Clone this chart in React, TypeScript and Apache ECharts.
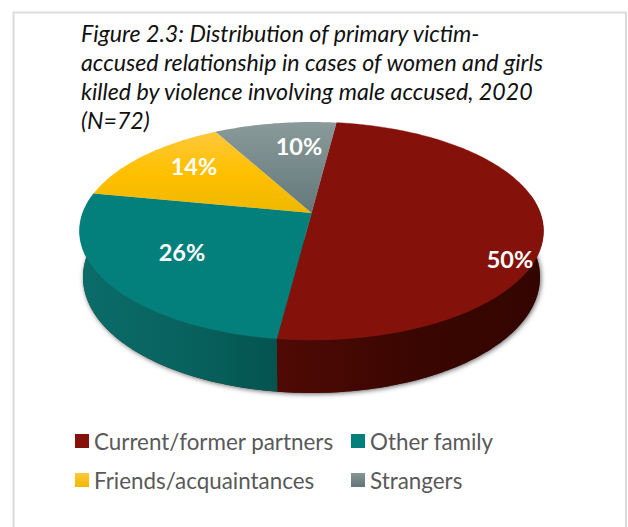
import React, { useEffect, useRef } from "react";
import * as echarts from "echarts";

const categories = ["Current/former partners", "Other family", "Friends/acquaintances", "Strangers"];
const percentages = [50, 26, 14, 10];
const titleLines = [
  "Figure 2.3: Distribution of primary victim-",
  "accused relationship in cases of women and girls",
  "killed by violence involving male accused, 2020",
  "(N=72)",
];

const W = 628, H = 527;
const FONT = "Lato, 'Noto Sans', sans-serif";
const PIE = { apexX: 311.5, apexY: 213, A: 228.8, B: 106, k: 0.165, startDeg: 7.3, scaleBottom: 0.985, depthMid: 45, depthVar: 8 };
const WALL_RANGE = [80.5, 279.5];
const labelPositions = [[510, 259], [182, 252], [194, 166], [299, 146]];

const v = (a: any[], x2: number, y2: number) => new (echarts.graphic as any).LinearGradient(0, 0, x2, y2, a.map((c, i) => ({ offset: i / (a.length - 1), color: c })));
const topFill = [
  "#84120a",
  "#04807c",
  v(["#ffc83c", "#ffc000", "#eeb800"], 0, 1),
  v(["#8a9a9a", "#64787a"], 0, 1),
];
const wallFill = [
  v(["#500a05", "#3b0601", "#330500"], 1, 0),
  v(["#0a6c69", "#08635f", "#045450"], 1, 0),
  "#a88000",
  "#465456",
];
const legendFill = [
  "#84120a",
  "#04807c",
  v(["#ffc83c", "#f0b800"], 0, 1),
  v(["#869696", "#647476"], 0, 1),
];

function projectTop(deg: number) {
  const t = (deg * Math.PI) / 180;
  const u = Math.sin(t), n = -Math.cos(t);
  const w = 1 - PIE.k * n;
  return { x: PIE.apexX + (PIE.A * u) / w, y: PIE.apexY + (PIE.B * n) / w, n };
}
function projectBottom(deg: number) {
  const p = projectTop(deg);
  return { x: PIE.apexX + (p.x - PIE.apexX) * PIE.scaleBottom, y: p.y + PIE.depthMid + PIE.depthVar * p.n };
}
function angles(a: number, b: number) {
  const out: number[] = [];
  for (let d = a; d < b; d += 1) out.push(d);
  out.push(b);
  return out;
}
const total = percentages.reduce((s, x) => s + x, 0);

function sliceRange(i: number) {
  const before = percentages.slice(0, i).reduce((s, x) => s + x, 0);
  const start = PIE.startDeg + (before / total) * 360;
  return [start, start + (percentages[i] / total) * 360];
}

function renderSlice(i: number) {
  return (_params: any, api: any) => {
    api.value(0);
    const [a, b] = sliceRange(i);
    const children: any[] = [];
    const lo = Math.max(a, WALL_RANGE[0]);
    const hi = Math.min(b, WALL_RANGE[1]);
    if (hi > lo) {
      const arc = angles(lo, hi);
      const pts = [
        ...arc.map((d) => { const p = projectTop(d); return [p.x, p.y]; }),
        ...arc.slice().reverse().map((d) => { const p = projectBottom(d); return [p.x, p.y]; }),
      ];
      children.push({ type: "polygon", shape: { points: pts }, style: { fill: wallFill[i] } });
    }
    const apex = [PIE.apexX, PIE.apexY];
    const top = [apex, ...angles(a, b).map((d) => { const p = projectTop(d); return [p.x, p.y]; })];
    children.push({ type: "polygon", z2: 5, shape: { points: top }, style: { fill: topFill[i], stroke: typeof topFill[i] === "string" ? topFill[i] : "none", lineWidth: 0.4 } });
    children.push({
      type: "text", z2: 10, x: labelPositions[i][0], y: labelPositions[i][1],
      style: { text: percentages[i] + "%", fill: "#fff", font: `bold 23.5px ${FONT}`, align: "center", verticalAlign: "middle" },
    });
    return { type: "group", children };
  };
}

function renderShadow() {
  const pts = angles(WALL_RANGE[0], WALL_RANGE[1]).map((d) => { const p = projectBottom(d); return [p.x, p.y]; });
  return {
    type: "polygon",
    shape: { points: pts },
    style: { fill: "#333", shadowBlur: 5, shadowColor: "rgba(0,0,0,0.6)", shadowOffsetX: 1, shadowOffsetY: 1 },
  };
}

const legendText = { fontFamily: FONT, fontSize: 22.4, color: "#595959", padding: [0, 0, 0, 0], height: 22, lineHeight: 22 };

export default function App() {
  const ref = useRef<HTMLDivElement>(null);
  useEffect(() => {
    document.body.style.margin = "0";
    const chart = echarts.init(ref.current!, null, { renderer: "svg" });
    chart.setOption({
      animation: false,
      backgroundColor: "#fff",
      title: {
        text: titleLines.join("\n"),
        left: 81, top: 18, padding: 0,
        textStyle: { fontFamily: FONT, fontStyle: "italic", fontWeight: "normal", fontSize: 23.2, lineHeight: 29, color: "#111" },
      },
      legend: [
        {
          orient: "vertical", left: 75, top: 430, padding: 0, itemGap: 17, itemWidth: 14, itemHeight: 14, icon: "rect",
          data: [categories[0], categories[2]],
          textStyle: legendText,
        },
        {
          orient: "vertical", left: 351, top: 430, padding: 0, itemGap: 17, itemWidth: 14, itemHeight: 14, icon: "rect",
          data: [categories[1], categories[3]],
          textStyle: legendText,
        },
      ],
      graphic: [
        { type: "rect", shape: { x: 13.5, y: 12.5, width: 612.5, height: 600 }, style: { fill: "none", stroke: "#dcdcdc", lineWidth: 2 }, silent: true, z: -1 },
      ],
      series: [
        { type: "custom", name: "shadow", coordinateSystem: "none", z: 1, data: [[total]], renderItem: renderShadow },
        ...categories.map((name, i) => ({
          type: "custom", name, coordinateSystem: "none", z: 2,
          itemStyle: { color: legendFill[i] },
          data: [[percentages[i]]],
          renderItem: renderSlice(i),
        })),
      ],
    });
    return () => chart.dispose();
  }, []);
  return <div ref={ref} style={{ width: W, height: H }} />;
}
